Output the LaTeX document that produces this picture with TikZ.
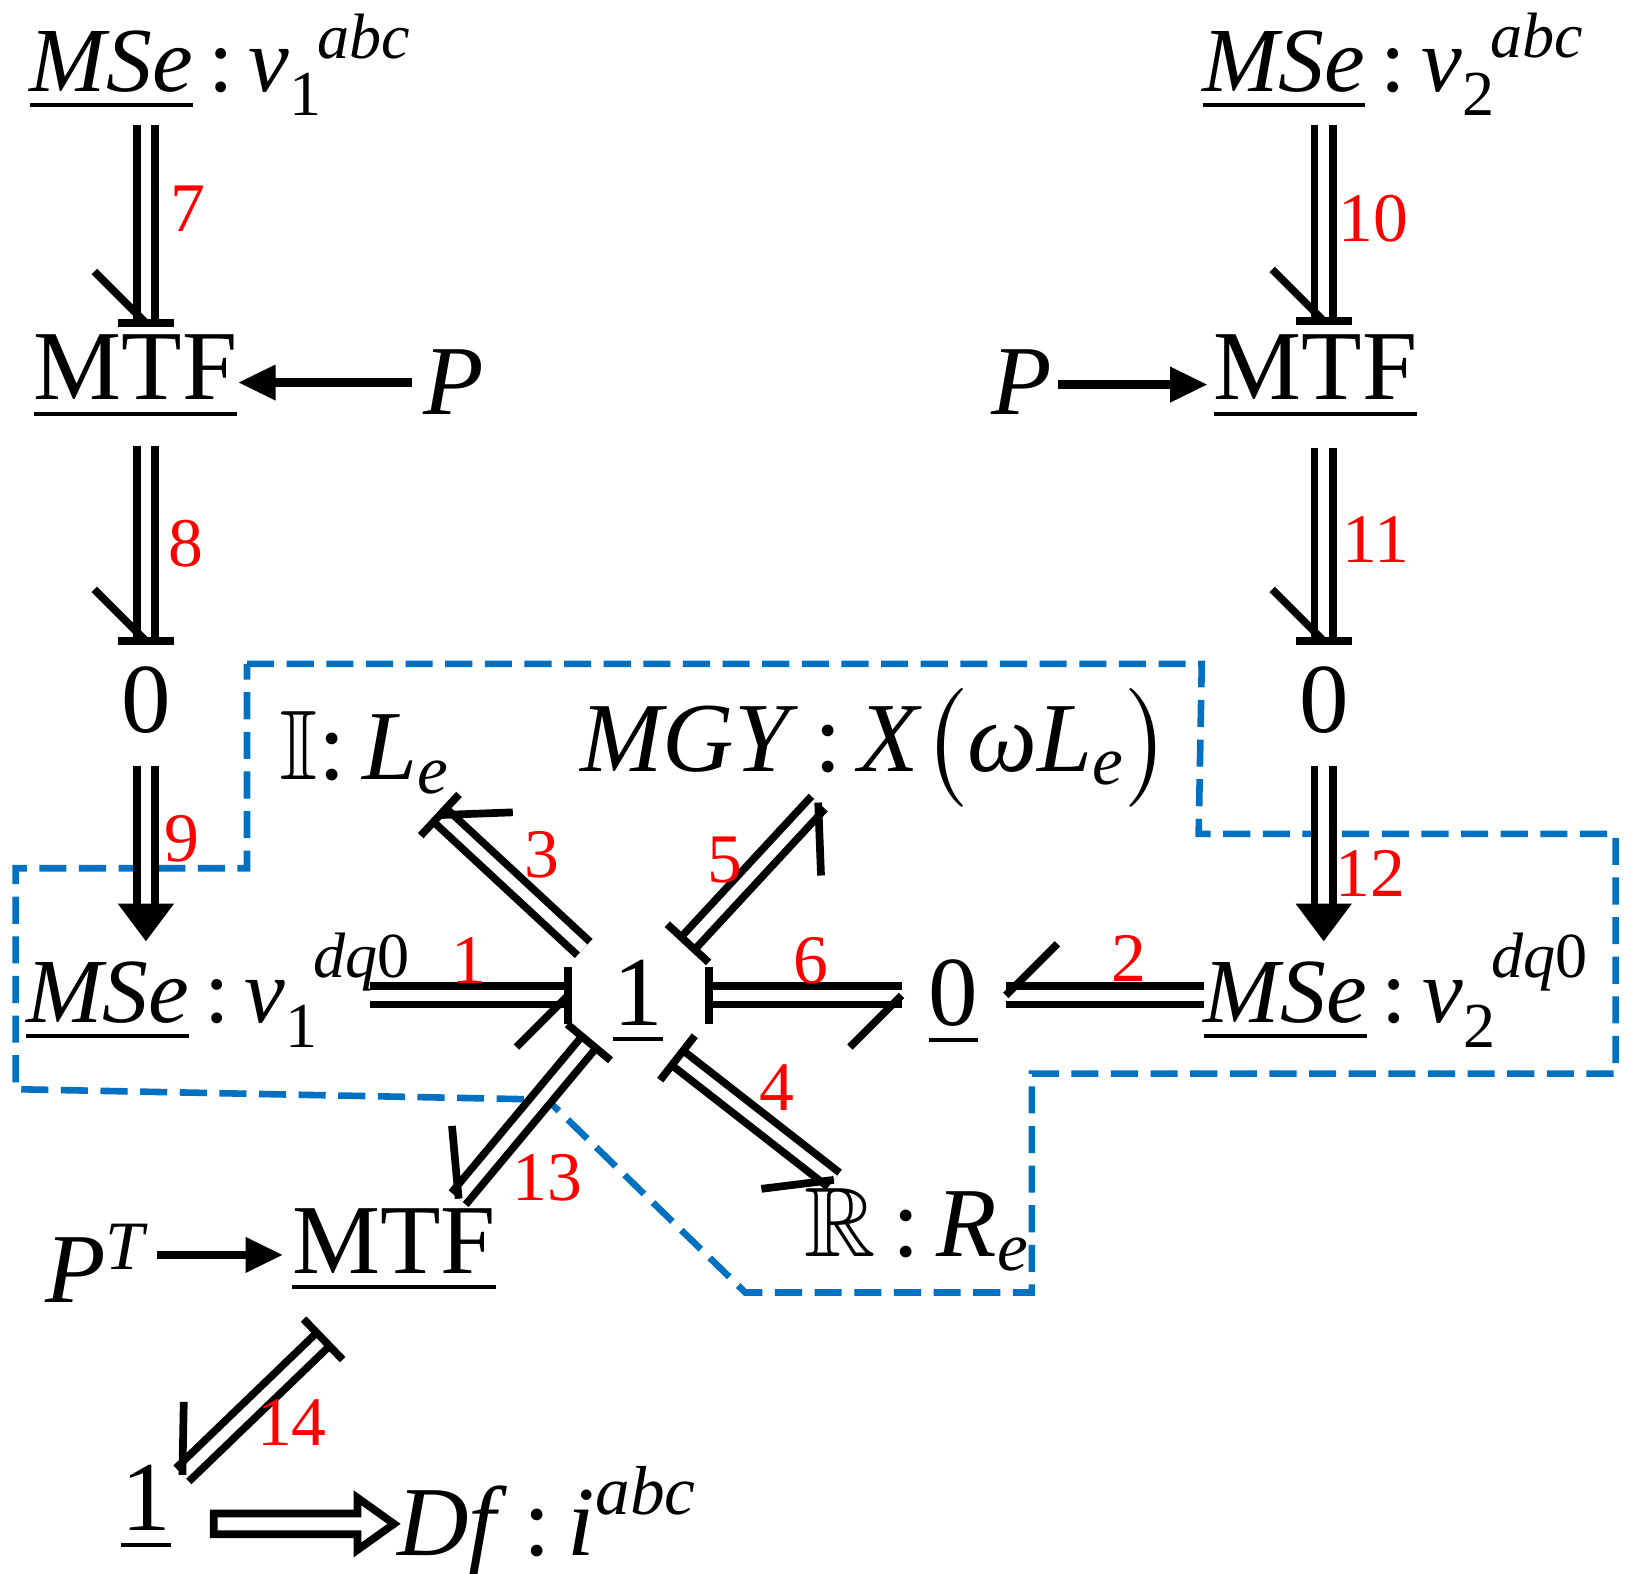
\documentclass[tikz,border=0pt]{standalone}
\usepackage{amsmath,amssymb}
\usepackage{fontspec}
\setmainfont{Liberation Serif}
\usetikzlibrary{calc,arrows.meta}
\newcommand{\bd}[2]{\draw[bond] (#1) -- (#2); \draw[stk] (#2) -- ($(#2)!0.7cm!45:(#1)$);}
\newcommand{\cs}[2]{\draw[stk] ($(#1)!0.27cm!90:(#2)$) -- ($(#1)!0.27cm!-90:(#2)$);}
\newcommand{\ab}[2]{\draw[bond,shorten >=0.3cm] (#1) -- (#2); \fill ($(#2)+(-27,-36)$) -- ($(#2)+(27,-36)$) -- (#2) -- cycle;}
\begin{document}
\begin{tikzpicture}[x=0.01cm,y=-0.01cm,
 bond/.style={double, double distance=2.9pt, line width=2.1pt},
 stk/.style={line width=2.1pt},
 lab/.style={font=\fontsize{27}{30}\selectfont, inner sep=0},
 mse/.style={font=\fontsize{25}{28}\selectfont, inner sep=0},
 num/.style={red, font=\fontsize{19}{22}\selectfont, inner sep=0},
 sig/.style={line width=2.3pt, -{Triangle[length=0.36cm,width=0.32cm]}},
 box/.style={draw={rgb,255:red,0;green,112;blue,192}, line width=1.8pt, dash pattern=on 0.26cm off 0.12cm}]
\useasboundingbox (0,0) rectangle (1560,1510);
\draw[box] (237,637) -- (1153,637) -- (1150,800) -- (1550,800) -- (1550,1030) -- (990,1030) -- (990,1240) -- (715,1240) -- (525,1055) -- (15,1045) -- (15,833) -- (237,833) -- cycle;
% nodes
\node[mse] (mse1) at (212,62) {\underline{\textit{MSe}}\,:\,$\textit{v}_{\text{1}}^{\;\,\textit{abc}}$};
\node[mse] (mse2) at (1337,62) {\underline{\textit{MSe}}\,:\,$\textit{v}_{\text{2}}^{\;\,\textit{abc}}$};
\node[lab] (mtf1) at (130,362) {\underline{MTF}};
\node[lab] (p1) at (435,367) {\textit{P}};
\node[lab] (mtf2) at (1262,362) {\underline{MTF}};
\node[lab] (p2) at (980,367) {\textit{P}};
\node[lab] (z1) at (140,672) {0};
\node[lab] (z2) at (1270,672) {0};
\node[mse] (msed1) at (210,950) {\underline{\textit{MSe}}\,:\,$\textit{v}_{\text{1}}^{\;\,\textit{dq}\text{0}}$};
\node[mse] (msed2) at (1340,950) {\underline{\textit{MSe}}\,:\,$\textit{v}_{\text{2}}^{\;\,\textit{dq}\text{0}}$};
\node[lab] (one) at (612,962) {\underline{1}};
\node[lab] (zc) at (915,962) {\underline{0}};
\node[lab] (ie) at (350,722) {$\mathbb{I}$:\,$\textit{L}_{\textit{e}}$};
\node[lab] (mgy) at (840,718) {\textit{MGY}\,:\,\textit{X}$\big($\textit{ωL}$_{\textit{e}}\big)$};
\node[lab] (re) at (880,1180) {$\mathbb{R}$\,:\,$\textit{R}_{\textit{e}}$};
\node[lab] (pt) at (92,1212) {\textit{P}$^{\textit{T}}$};
\node[lab] (mtf3) at (378,1200) {\underline{MTF}};
\node[lab] (one2) at (140,1447) {\underline{1}};
\node[lab] (df) at (525,1460) {\textit{Df}\,:\,$\textit{i}^{\textit{abc}}$};
% bond end coordinates
\coordinate (a7) at (140,120); \coordinate (b7) at (140,310);
\coordinate (a8) at (140,428); \coordinate (b8) at (140,615);
\coordinate (a9) at (140,735); \coordinate (b9) at (140,903);
\coordinate (a10) at (1270,120); \coordinate (b10) at (1270,308);
\coordinate (a11) at (1270,430); \coordinate (b11) at (1270,615);
\coordinate (a12) at (1270,735); \coordinate (b12) at (1270,903);
\coordinate (a1) at (355,955); \coordinate (b1) at (545,955);
\coordinate (a6) at (680,955); \coordinate (b6) at (865,955);
\coordinate (a2) at (1155,955); \coordinate (b2) at (965,955);
\coordinate (a3) at (560,910); \coordinate (b3) at (422,782);
\coordinate (a5) at (660,905); \coordinate (b5) at (785,770);
\coordinate (a4) at (650,1015); \coordinate (b4) at (800,1132);
\coordinate (a13) at (565,1000); \coordinate (b13) at (440,1150);
\coordinate (a14) at (310,1285); \coordinate (b14) at (175,1415);
% bonds
\bd{a7}{b7}\cs{b7}{a7}
\bd{a8}{b8}\cs{b8}{a8}
\bd{a10}{b10}\cs{b10}{a10}
\bd{a11}{b11}\cs{b11}{a11}
\ab{a9}{b9}
\ab{a12}{b12}
\bd{a1}{b1}\cs{b1}{a1}
\bd{a6}{b6}\cs{a6}{b6}
\bd{a2}{b2}
\bd{a3}{b3}\cs{b3}{a3}
\bd{a5}{b5}\cs{a5}{b5}
\bd{a4}{b4}\cs{a4}{b4}
\bd{a13}{b13}\cs{a13}{b13}
\bd{a14}{b14}\cs{a14}{b14}
% Df arrow
\coordinate (a15) at (205,1462); \coordinate (b15) at (378,1462);
\draw[line width=2.1pt, line join=miter] ($(a15)+(0,-10)$) -- ($(b15)+(-35,-10)$) -- ($(b15)+(-35,-25)$) -- (b15) -- ($(b15)+(-35,25)$) -- ($(b15)+(-35,10)$) -- ($(a15)+(0,10)$) -- cycle;
% signals
\draw[sig] (p1.west) ++(-10,0) -- (mtf1.east |- p1.west);
\draw[sig] (p2.east) ++(5,2) -- ($(mtf2.west |- p2.east)+(-5,2)$);
\draw[sig] ($(pt.east)+(10,-8)$) -- ($(mtf3.west |- pt.east)+(-8,-8)$);
% labels
\node[num] at (180,200) {7};
\node[num] at (178,522) {8};
\node[num] at (175,805) {9};
\node[num] at (1318,210) {10};
\node[num] at (1320,518) {11};
\node[num] at (1315,838) {12};
\node[num] at (450,922) {1};
\node[num] at (1083,920) {2};
\node[num] at (520,820) {3};
\node[num] at (745,1043) {4};
\node[num] at (695,825) {5};
\node[num] at (778,922) {6};
\node[num] at (525,1130) {13};
\node[num] at (280,1365) {14};
\end{tikzpicture}
\end{document}
